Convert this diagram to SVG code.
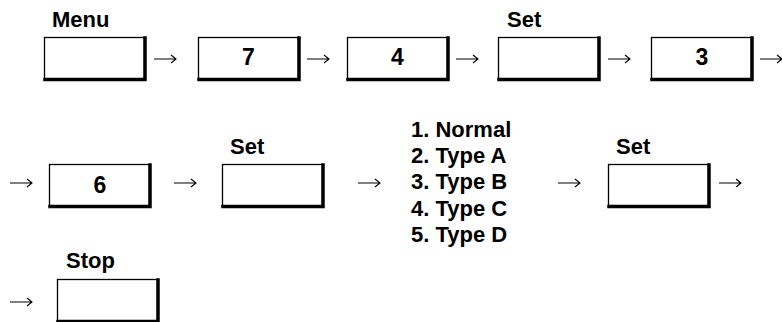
<svg xmlns="http://www.w3.org/2000/svg" width="782" height="322" viewBox="0 0 782 322">
<style>
  .lbl{font-family:"Liberation Sans",Arial,sans-serif;font-weight:bold;font-size:22px;fill:#000}
  .num{font-family:"Liberation Sans",Arial,sans-serif;font-weight:bold;font-size:23px;fill:#000;text-anchor:middle}
  .box{fill:#fff;stroke:#000;stroke-width:1.3}
  .sh{fill:none;stroke:#000;stroke-width:3.5;stroke-linecap:square}
  .arr{fill:none;stroke:#000;stroke-width:1.1}
</style>
<defs>
  <g id="key">
    <rect class="box" x="0.5" y="0.5" width="100" height="42"/>
    <path class="sh" d="M101,1 V42.5 H1"/>
  </g>
  <path id="ar" class="arr" d="M0,0 H22 M17,-4 L22,0 L17,4"/>
</defs>
<rect width="782" height="322" fill="#fff"/>
<g id="connectors">
  <use href="#ar" x="154" y="59"/>
  <use href="#ar" x="307" y="59"/>
  <use href="#ar" x="456" y="59"/>
  <use href="#ar" x="608" y="59"/>
  <use href="#ar" x="760" y="59"/>
  <use href="#ar" x="10" y="183"/>
  <use href="#ar" x="174" y="183"/>
  <use href="#ar" x="358" y="183"/>
  <use href="#ar" x="558" y="183"/>
  <use href="#ar" x="719" y="183"/>
  <use href="#ar" x="10" y="302"/>
</g>
<g id="menu"><text class="lbl" x="52" y="27">Menu</text><use href="#key" x="44" y="37"/></g>
<g id="k7"><use href="#key" x="198" y="37"/><text class="num" x="248.5" y="65">7</text></g>
<g id="k4"><use href="#key" x="347" y="37"/><text class="num" x="397.5" y="65">4</text></g>
<g id="set1"><text class="lbl" x="507" y="27">Set</text><use href="#key" x="498" y="37"/></g>
<g id="k3"><use href="#key" x="651" y="37"/><text class="num" x="702" y="65">3</text></g>
<g id="k6"><use href="#key" x="49" y="164"/><text class="num" x="100" y="193">6</text></g>
<g id="set2"><text class="lbl" x="230" y="154">Set</text><use href="#key" x="222" y="164"/></g>
<g id="list">
  <text class="lbl" x="411" y="137">1. Normal</text>
  <text class="lbl" x="411" y="163.2">2. Type A</text>
  <text class="lbl" x="411" y="189.4">3. Type B</text>
  <text class="lbl" x="411" y="215.6">4. Type C</text>
  <text class="lbl" x="411" y="241.8">5. Type D</text>
</g>
<g id="set3"><text class="lbl" x="616" y="154">Set</text><use href="#key" x="608" y="164"/></g>
<g id="stop"><text class="lbl" x="66" y="268">Stop</text><use href="#key" x="57" y="279"/></g>
</svg>
